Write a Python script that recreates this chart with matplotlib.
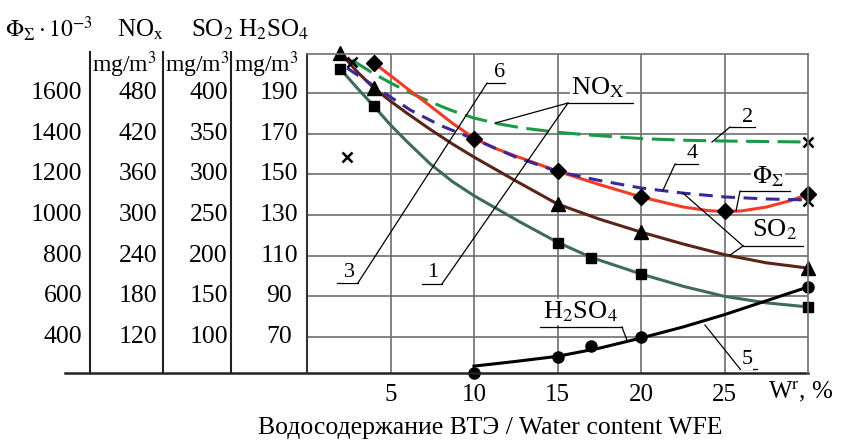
import matplotlib
matplotlib.use("Agg")
import matplotlib.pyplot as plt

plt.rcParams['font.family'] = ['Liberation Serif', 'DejaVu Serif']
plt.rcParams['mathtext.fontset'] = 'stix'

# all curves in the left (Phi) scale units
x_phi = [2.4, 3, 4.2, 5, 6.2, 8, 10, 12.5, 15, 17.5, 20, 22.5, 25, 27.5, 30]
y_phi = [1723, 1690, 1625, 1580, 1516, 1440, 1374, 1285, 1214, 1170, 1133, 1108, 1089, 1079, 1074]

x_red = [4, 5, 6, 7.4, 8.7, 10, 11.2, 12.5, 15, 17.5, 20, 22.5, 24, 25, 26, 27.5, 29, 30]
y_red = [1748, 1686, 1622, 1535, 1452, 1378, 1330, 1290, 1216, 1150, 1089, 1040, 1022, 1017,
         1020, 1039, 1072, 1103]

x_nox = [2.7, 4, 5, 6, 7.4, 8.7, 10, 11.5, 12.9, 15, 17, 20, 22.5, 25, 30]
y_nox = [1762, 1695, 1650, 1608, 1556, 1513, 1477, 1448, 1428, 1407, 1393, 1376, 1368, 1364, 1359]

x_so2 = [2, 3, 4, 5, 6, 7.4, 8.7, 10, 12.5, 15, 17.5, 20, 22.5, 25, 27.5, 30]
y_so2 = [1797, 1705, 1625, 1560, 1500, 1420, 1350, 1285, 1168, 1054, 980, 916, 858, 805, 765, 739]

x_c5 = [2, 3, 4, 5, 6, 7.4, 8.7, 10, 12.75, 15, 17, 20, 22.5, 25, 27.5, 30]
y_c5 = [1718, 1625, 1536, 1443, 1360, 1250, 1165, 1095, 966, 866, 792, 710, 650, 600, 568, 548]

x_h2so4 = [10, 11, 12.5, 15, 17.5, 20, 22.5, 25, 27.5, 30]
y_h2so4 = [257, 266, 280, 305, 345, 395, 449, 510, 578, 646]

# markers
tri_x = [2, 4, 15, 20, 30]
tri_y = [1797, 1625, 1054, 916, 739]
sq_x = [2, 4, 15, 17, 20, 30]
sq_y = [1718, 1536, 862, 789, 710, 548]
dia_x = [4, 10, 15, 20, 25, 30]
dia_y = [1748, 1374, 1216, 1089, 1020, 1103]
dot_x = [10, 15, 17, 20, 30]
dot_y = [223, 302, 356, 400, 646]
cross_x = [2.7, 2.4, 30, 30]
cross_y = [1752, 1285, 1359, 1069]

# left scale columns
phi_ticks = [1600, 1400, 1200, 1000, 800, 600, 400]
nox_ticks = [480, 420, 360, 300, 240, 180, 120]
so2_ticks = [400, 350, 300, 250, 200, 150, 100]
h2so4_ticks = [190, 170, 150, 130, 110, 90, 70]
x_ticks = [5, 10, 15, 20, 25]

W, H = 843, 442
fig = plt.figure(figsize=(W / 100, H / 100), dpi=100)
ax = fig.add_axes([307 / W, 1 - 373 / H, 501 / W, 319 / H])
ax.set_xlim(0, 30)
ax.set_ylim(223, 1792)

# Grid
ax.set_xticks(x_ticks)
ax.set_yticks(phi_ticks)
ax.set_yticklabels([])
ax.grid(True, color='#6e6e6e', lw=1.2)
ax.tick_params(length=0, labelsize=18, pad=8)
for s in ['top', 'right']:
    ax.spines[s].set_color('#6e6e6e')
    ax.spines[s].set_linewidth(1.2)
ax.spines['left'].set_color('#333333')
ax.spines['left'].set_linewidth(1.5)
ax.spines['bottom'].set_visible(False)

# Curves
lw = 2.2
ax.plot(x_nox, y_nox, color='#1a9a46', lw=lw, dashes=(7.5, 2.8), clip_on=False)
ax.plot(x_so2, y_so2, color='#5a2418', lw=lw, clip_on=False)
ax.plot(x_c5, y_c5, color='#3f6b5c', lw=lw, clip_on=False)
ax.plot(x_red, y_red, color='#f23c26', lw=lw, clip_on=False)
ax.plot(x_phi, y_phi, color='#3a2896', lw=lw, dashes=(4.5, 2.8), clip_on=False)
ax.plot(x_h2so4, y_h2so4, color='black', lw=lw, clip_on=False)

ax.plot(tri_x, tri_y, '^', color='black', ms=9.5, clip_on=False)
ax.plot(sq_x, sq_y, 's', color='black', ms=7, clip_on=False)
ax.plot(dia_x, dia_y, 'D', color='black', ms=8.5, clip_on=False)
ax.plot(dot_x, dot_y, 'o', color='black', ms=8, clip_on=False)
ax.plot(cross_x, cross_y, 'x', color='black', ms=7, mew=1.8, clip_on=False)

# Left scale table
yt = ax.get_yaxis_transform()
ax.plot([-0.483, 1], [223, 223], transform=yt, color='#222222', lw=1.8, clip_on=False)
for xc in [-0.4331, -0.2874, -0.1517]:
    ax.plot([xc, xc], [223, 1800], transform=yt, color='#222222', lw=1.5, clip_on=False)
for v, a, b, c in zip(phi_ticks, nox_ticks, so2_ticks, h2so4_ticks):
    ax.text(-0.449, v, str(v), transform=yt, ha='right', va='center', fontsize=18.5)
    ax.text(-0.2994, v, str(a), transform=yt, ha='right', va='center', fontsize=18.5)
    ax.text(-0.1577, v, str(b), transform=yt, ha='right', va='center', fontsize=18.5)
    ax.text(-0.0559, v, str(c), transform=yt, ha='center', va='center', fontsize=18.5)

fig.text(49 / W, 1 - 37 / H, r'$\Phi_\Sigma\cdot10^{-3}$', ha='center', va='baseline', fontsize=17)
fig.text(140 / W, 1 - 37 / H, r'NO$_{\rm x}$', ha='center', va='baseline', fontsize=18)
fig.text(212 / W, 1 - 37 / H, r'SO$_2$', ha='center', va='baseline', fontsize=18)
fig.text(274 / W, 1 - 37 / H, r'H$_2$SO$_4$', ha='center', va='baseline', fontsize=18)
for xr in [157, 230, 299]:
    fig.text(xr / W, 1 - 72 / H, r'mg/m$^3$', ha='right', va='baseline', fontsize=17)

fig.text(801 / W, 1 - 392 / H, r'W$^{\rm r}$, %', ha='center', va='center', fontsize=18)
fig.text(490 / W, 1 - 428 / H, 'Водосодержание ВТЭ / Water content WFE',
         ha='center', va='center', fontsize=18.5)

# Leader lines and curve labels
white = dict(facecolor='white', edgecolor='none', pad=0.5)
lead = dict(color='black', lw=0.9, clip_on=False)


def label(txt, tx, ty, ux0, ux1, uy, ends, size=16):
    ax.plot([ux0, ux1], [uy, uy], **lead)
    for ex, ey in ends:
        ax.plot([ux0, ex], [uy, ey], **lead)
    ax.text(tx, ty, txt, ha='center', va='center', fontsize=size, bbox=white)


ax.plot([10.78, 3.05], [1649, 666], **lead)
label('6', 11.56, 1703, 10.78, 11.86, 1649, [])
label('3', 2.57, 715, 1.80, 3.05, 666, [])
ax.plot([8.08, 15.63], [661, 1551], **lead)
label('1', 7.54, 715, 6.89, 8.08, 661, [])
label(r'NO$_{\rm X}$', 17.43, 1625, 15.63, 19.52, 1551, [(11.26, 1452)], size=19)
label('2', 26.41, 1482, 25.33, 26.83, 1433, [(24.25, 1359)])
label('4', 23.05, 1305, 22.04, 23.41, 1251, [(21.32, 1123)])
label(r'$\Phi_\Sigma$', 27.6, 1187, 25.93, 28.92, 1118, [(25.69, 1020)], size=18)
label(r'SO$_2$', 28.02, 926, 26.11, 29.70, 848, [(25.33, 803), (22.51, 1108)], size=19)
ax.plot([18.86, 19.16], [449, 385], **lead)
label(r'H$_2$SO$_4$', 16.35, 523, 13.95, 18.86, 449, [], size=19)
label('5', 26.35, 287, 25.93, 26.95, 243, [(23.83, 459)])

fig.savefig('out.png', dpi=100)
